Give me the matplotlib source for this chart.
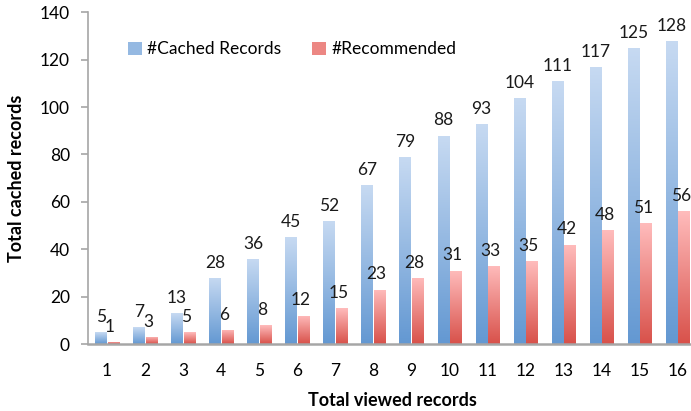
import numpy as np
import matplotlib
matplotlib.use('Agg')
import matplotlib.pyplot as plt
from matplotlib.colors import LinearSegmentedColormap

plt.rcParams['font.family'] = ['Lato', 'DejaVu Sans']

# dados do gráfico
viewed = list(range(1, 17))
cached = [5, 7, 13, 28, 36, 45, 52, 67, 79, 88, 93, 104, 111, 117, 125, 128]
recommended = [1, 3, 5, 6, 8, 12, 15, 23, 28, 31, 33, 35, 42, 48, 51, 56]

blue_cmap = LinearSegmentedColormap.from_list('azul', ['#6398d2', '#c7daf2'])
red_cmap = LinearSegmentedColormap.from_list('verm', ['#d8514a', '#ffbcbc'])

fig = plt.figure(figsize=(6.91, 4.11), dpi=100)
ax = fig.add_axes([0.1274, 0.163, 0.881, 0.807])

x = np.arange(len(viewed)) + 1
w = 0.30
off = 0.165


def gradient_bars(xs, vals, cmap, label):
    bars = ax.bar(xs, vals, w, color=cmap(0.5), label=label, zorder=2)
    grad = np.linspace(0, 1, 256).reshape(-1, 1)
    for b in bars:
        x0, y0 = b.get_x(), b.get_y()
        im = ax.imshow(grad, cmap=cmap, origin='lower', aspect='auto',
                       extent=[x0, x0 + b.get_width(), y0, y0 + b.get_height()],
                       zorder=2.5)
        im.set_clip_path(b)
    return bars


b1 = gradient_bars(x - off, cached, blue_cmap, '#Cached Records')
b2 = gradient_bars(x + off, recommended, red_cmap, '#Recommended')

# rótulos com os valores acima das barras
for xi, v in zip(x - off, cached):
    ax.text(xi, v + 3, str(v), ha='center', va='bottom', fontsize=12.5, color='#1a1a1a')
for xi, v in zip(x + off, recommended):
    ax.text(xi - 0.09, v + 3, str(v), ha='center', va='bottom', fontsize=12.5, color='#1a1a1a')

ax.set_xlim(0.5, 16.5)
ax.set_ylim(0, 140)
ax.set_yticks(range(0, 141, 20))
ax.set_xticks(x)
ax.set_xticklabels([str(v) for v in viewed])
ax.tick_params(axis='y', labelsize=12.5, length=5, color='#a6a6a6', width=1.2, pad=8)
ax.tick_params(axis='x', labelsize=12.5, length=0, pad=14)

for s in ['top', 'right']:
    ax.spines[s].set_visible(False)
ax.spines['left'].set_color('#a6a6a6')
ax.spines['left'].set_linewidth(1.2)
ax.spines['bottom'].set_color('#a6a6a6')
ax.spines['bottom'].set_linewidth(1.8)
ax.spines['left'].set_zorder(3)
ax.spines['bottom'].set_zorder(3)

ax.set_xlabel('Total viewed records', fontsize=13, fontweight='bold', labelpad=9)
ax.set_ylabel('Total cached records', fontsize=13, fontweight='bold', labelpad=11)

leg = ax.legend(loc='upper left', bbox_to_anchor=(0.04, 0.96), ncol=2, frameon=False,
                fontsize=12.5, handlelength=0.8, handleheight=0.8, handletextpad=0.3,
                columnspacing=1.8)

plt.savefig('out.png', dpi=100)
